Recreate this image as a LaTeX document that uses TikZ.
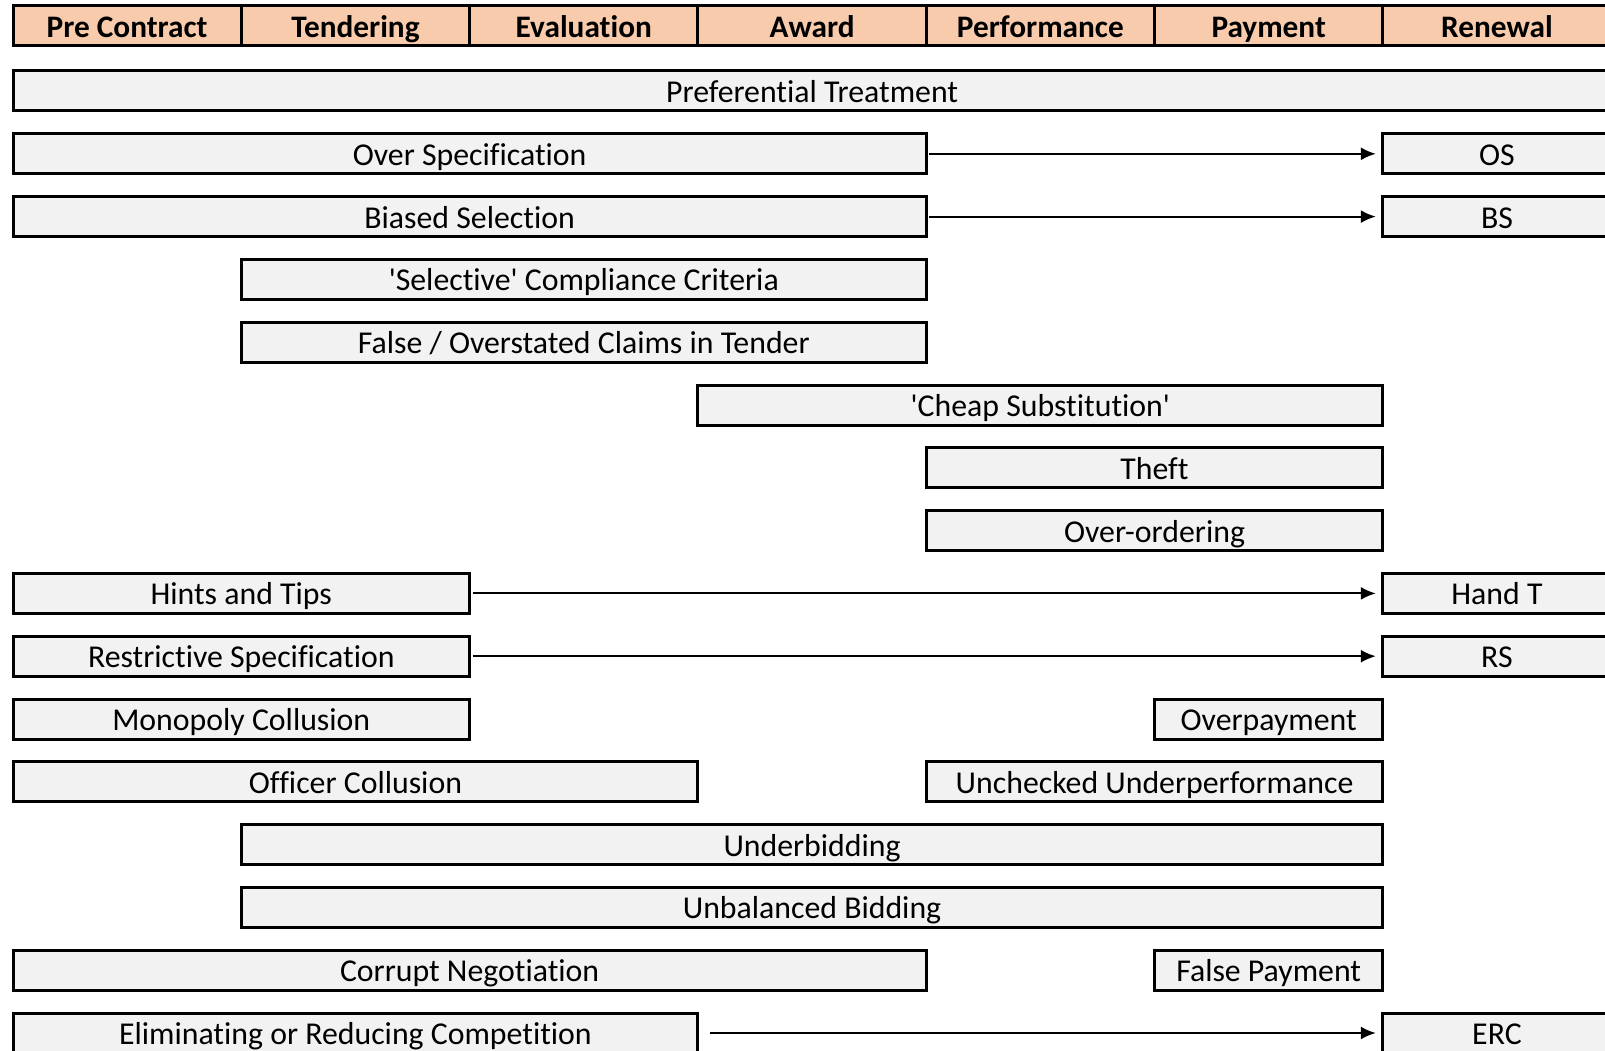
\documentclass[tikz,border=0pt]{standalone}
\usepackage{fontspec}
\setmainfont{Carlito}[RawFeature={-liga;-clig;-dlig}]
\usetikzlibrary{arrows.meta}
\definecolor{phasefill}{HTML}{F8CBAD}
\definecolor{barfill}{HTML}{F2F2F2}
\begin{document}
\begin{tikzpicture}[x=1pt,y=-1pt,
  phase/.style={draw=black, fill=phasefill, line width=3pt, inner sep=0pt, outer sep=0pt,
    minimum width=228.3pt, minimum height=40pt, text height=25pt, text depth=0pt,
    font=\fontsize{31.3}{35}\selectfont\bfseries},
  riskbar/.style={draw=black, fill=barfill, line width=3pt, inner sep=0pt, outer sep=0pt,
    minimum height=40pt, text height=23pt, text depth=0pt,
    font=\fontsize{31.8}{36}\selectfont},
  link/.style={line width=2pt, -{Latex[length=15pt,width=13pt]}, shorten >=7pt, shorten <=3pt}
]
\useasboundingbox (0,0) rectangle (1605,1051);
\clip (0,0) rectangle (1605,1051);

% procurement phases
\node[phase] (p1) at (127.15,25.5) {Pre Contract};
\node[phase] (p2) at (355.45,25.5) {Tendering};
\node[phase] (p3) at (583.75,25.5) {Evaluation};
\node[phase] (p4) at (812.05,25.5) {Award};
\node[phase] (p5) at (1040.35,25.5) {Performance};
\node[phase] (p6) at (1268.65,25.5) {Payment};
\node[phase] (p7) at (1496.95,25.5) {Renewal};

% risks, each spanning the phases where it occurs
\node[riskbar, minimum width=1598.1pt] (pref) at (812.05,91) {Preferential Treatment};

\node[riskbar, minimum width=913.2pt] (overspec) at (469.6,153.8) {Over Specification};
\node[riskbar, minimum width=228.3pt] (os) at (1496.95,153.8) {OS};

\node[riskbar, minimum width=913.2pt] (biased) at (469.6,216.6) {Biased Selection};
\node[riskbar, minimum width=228.3pt] (bs) at (1496.95,216.6) {BS};

\node[riskbar, minimum width=684.9pt] (selective) at (583.75,279.4) {\textquotesingle Selective\textquotesingle{} Compliance Criteria};
\node[riskbar, minimum width=684.9pt] (claims) at (583.75,342.2) {False / Overstated Claims in Tender};
\node[riskbar, minimum width=684.9pt] (cheap) at (1040.35,405) {\textquotesingle Cheap Substitution\textquotesingle};
\node[riskbar, minimum width=456.6pt] (theft) at (1154.5,467.8) {Theft};
\node[riskbar, minimum width=456.6pt] (overorder) at (1154.5,530.6) {Over-ordering};

\node[riskbar, minimum width=456.6pt] (hints) at (241.3,593.4) {Hints and Tips};
\node[riskbar, minimum width=228.3pt] (handt) at (1496.95,593.4) {Hand T};

\node[riskbar, minimum width=456.6pt] (restrict) at (241.3,656.2) {Restrictive Specification};
\node[riskbar, minimum width=228.3pt] (rs) at (1496.95,656.2) {RS};

\node[riskbar, minimum width=456.6pt] (monopoly) at (241.3,719) {Monopoly Collusion};
\node[riskbar, minimum width=228.3pt] (overpay) at (1268.65,719) {Overpayment};

\node[riskbar, minimum width=684.9pt] (officer) at (355.45,781.8) {Officer Collusion};
\node[riskbar, minimum width=456.6pt] (unchecked) at (1154.5,781.8) {Unchecked Underperformance};

\node[riskbar, minimum width=1141.5pt] (underbid) at (812.05,844.6) {Underbidding};
\node[riskbar, minimum width=1141.5pt] (unbalanced) at (812.05,907.4) {Unbalanced Bidding};

\node[riskbar, minimum width=913.2pt] (corrupt) at (469.6,970.2) {Corrupt Negotiation};
\node[riskbar, minimum width=228.3pt] (falsepay) at (1268.65,970.2) {False Payment};

\node[riskbar, minimum width=684.9pt] (elim) at (355.45,1033) {Eliminating or Reducing Competition};
\node[riskbar, minimum width=228.3pt] (erc) at (1496.95,1033) {ERC};

% risks that recur at renewal
\draw[link] (overspec.east) -- (os.west);
\draw[link] (biased.east) -- (bs.west);
\draw[link] (hints.east) -- (handt.west);
\draw[link] (restrict.east) -- (rs.west);
\draw[link, shorten <=12pt] (elim.east) -- (erc.west);
\end{tikzpicture}
\end{document}
